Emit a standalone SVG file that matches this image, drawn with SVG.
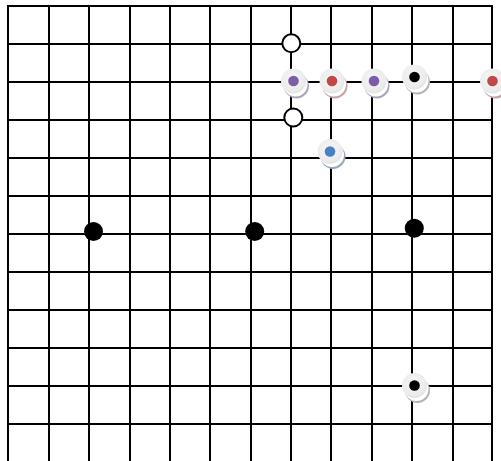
<svg xmlns="http://www.w3.org/2000/svg" width="501" height="461" viewBox="0 0 501 461">
<defs>
<style>
.g{stroke:#000;stroke-width:2;fill:none}
.hollow{fill:#fff;stroke:#000;stroke-width:2}
.black{fill:#000}
.disc{fill:url(#dg)}
</style>
<radialGradient id="dg" cx="0.45" cy="0.4" r="0.6">
<stop offset="0" stop-color="#f6f6f6"/>
<stop offset="0.8" stop-color="#ececec"/>
<stop offset="1" stop-color="#e2e2e2"/>
</radialGradient>
</defs>
<rect width="501" height="461" fill="#fff"/>
<g id="grid" class="g">
<path d="M8 5V461M49 5V461M89 5V461M130 5V461M170 5V461M210 5V461M251 5V461M291 5V461M331 5V461M372 5V461M412 5V461M453 5V461M492 5V461"/>
<path d="M7 6H493M7 44H493M7 82H493M7 120H493M7 158H493M7 196H493M7 234H493M7 272H493M7 310H493M7 348H493M7 386H493M7 424H493"/>
</g>
<g id="hollow1"><circle class="hollow" cx="291.3" cy="43.3" r="9"/></g>
<g id="hollow2"><circle class="hollow" cx="293.3" cy="117.5" r="9"/></g>
<g id="m1"><circle cx="296.5" cy="86" r="12.5" fill="#aea4c0"/><circle cx="295.5" cy="84.5" r="12" fill="#fff"/><circle class="disc" cx="293.5" cy="81" r="12.5"/><circle cx="293.5" cy="81" r="5.3" fill="#7b5ea7"/></g>
<g id="m2"><circle cx="335" cy="86" r="12.5" fill="#c4a4a4"/><circle cx="334" cy="84.5" r="12" fill="#fff"/><circle class="disc" cx="332" cy="81" r="12.5"/><circle cx="332" cy="81" r="5.3" fill="#c04848"/></g>
<g id="m3"><circle cx="377" cy="86" r="12.5" fill="#aea4c0"/><circle cx="376" cy="84.5" r="12" fill="#fff"/><circle class="disc" cx="374" cy="81" r="12.5"/><circle cx="374" cy="81" r="5.3" fill="#7b5ea7"/></g>
<g id="m4"><circle cx="417.5" cy="82" r="12.5" fill="#b4b4b4"/><circle cx="416.5" cy="80.5" r="12" fill="#fff"/><circle class="disc" cx="414.5" cy="77" r="12.5"/><circle cx="414.5" cy="77" r="5.3" fill="#000"/></g>
<g id="m5"><circle cx="495.5" cy="86" r="12.5" fill="#c4a4a4"/><circle cx="494.5" cy="84.5" r="12" fill="#fff"/><circle class="disc" cx="492.5" cy="81" r="12.5"/><circle cx="492.5" cy="81" r="5.3" fill="#c04848"/></g>
<g id="m6"><circle cx="333" cy="156.5" r="12.5" fill="#98a6bc"/><circle cx="332" cy="155" r="12" fill="#fff"/><circle class="disc" cx="330" cy="151.5" r="12.5"/><circle cx="330" cy="151.5" r="5.3" fill="#4a80c4"/></g>
<g id="m7"><circle cx="417.5" cy="390.5" r="12.5" fill="#b4b4b4"/><circle cx="416.5" cy="389" r="12" fill="#fff"/><circle class="disc" cx="414.5" cy="385.5" r="12.5"/><circle cx="414.5" cy="385.5" r="5.3" fill="#000"/></g>
<g id="b1"><circle class="black" cx="93.5" cy="231.5" r="9.5"/></g>
<g id="b2"><circle class="black" cx="254.7" cy="231.5" r="9.5"/></g>
<g id="b3"><circle class="black" cx="414.3" cy="228.3" r="9.5"/></g>
</svg>
